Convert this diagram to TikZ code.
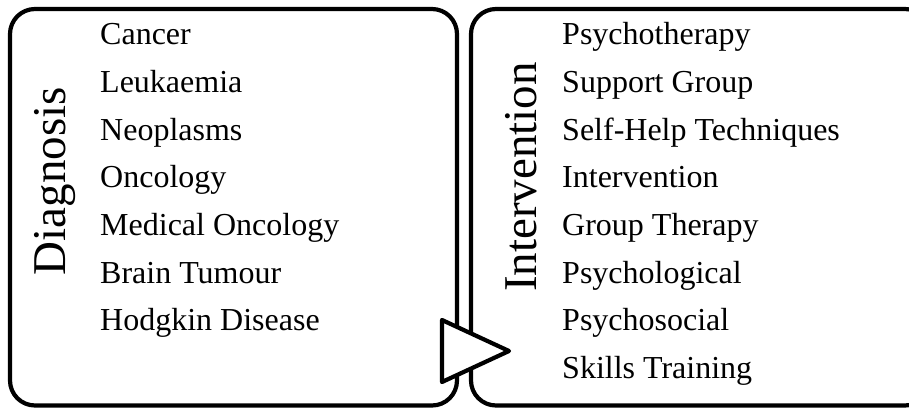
\documentclass[tikz,border=0pt]{standalone}
\usepackage{fontspec}
\setmainfont{Liberation Serif}
\begin{document}
\begin{tikzpicture}[x=1pt,y=1pt,
  box/.style={draw=black,line width=4.2pt,rounded corners=25pt},
  item/.style={anchor=base west,inner sep=0pt,font=\fontsize{32}{38}\selectfont},
  title/.style={anchor=base,rotate=90,inner sep=0pt,font=\fontsize{47}{56}\selectfont},
  arrowtri/.style={draw=black,fill=white,line width=4.2pt,line join=round}]
\useasboundingbox (0,0) rectangle (909,410);
\clip (0,0) rectangle (909,410);
\draw[box] (10,401) rectangle (457,4.5);
\draw[box] (471,401) rectangle (930,4.5);
\node[title] (diag) at (65,229) {Diagnosis};
\node[title] (interv) at (536,233) {Intervention};
\foreach \t [count=\i from 0] in {Cancer,Leukaemia,Neoplasms,Oncology,Medical Oncology,Brain Tumour,Hodgkin Disease}
  \node[item] (L\i) at (100,{365-47.6*\i}) {\t};
\foreach \t [count=\i from 0] in {Psychotherapy,Support Group,Self-Help Techniques,Intervention,Group Therapy,Psychological,Psychosocial,Skills Training}
  \node[item] (R\i) at (562,{365-47.6*\i}) {\t};
\coordinate (t1) at (442,90);
\coordinate (t2) at (442,28);
\coordinate (t3) at (509,59);
\draw[arrowtri] (t1) -- (t3) -- (t2) -- cycle;
\end{tikzpicture}
\end{document}
